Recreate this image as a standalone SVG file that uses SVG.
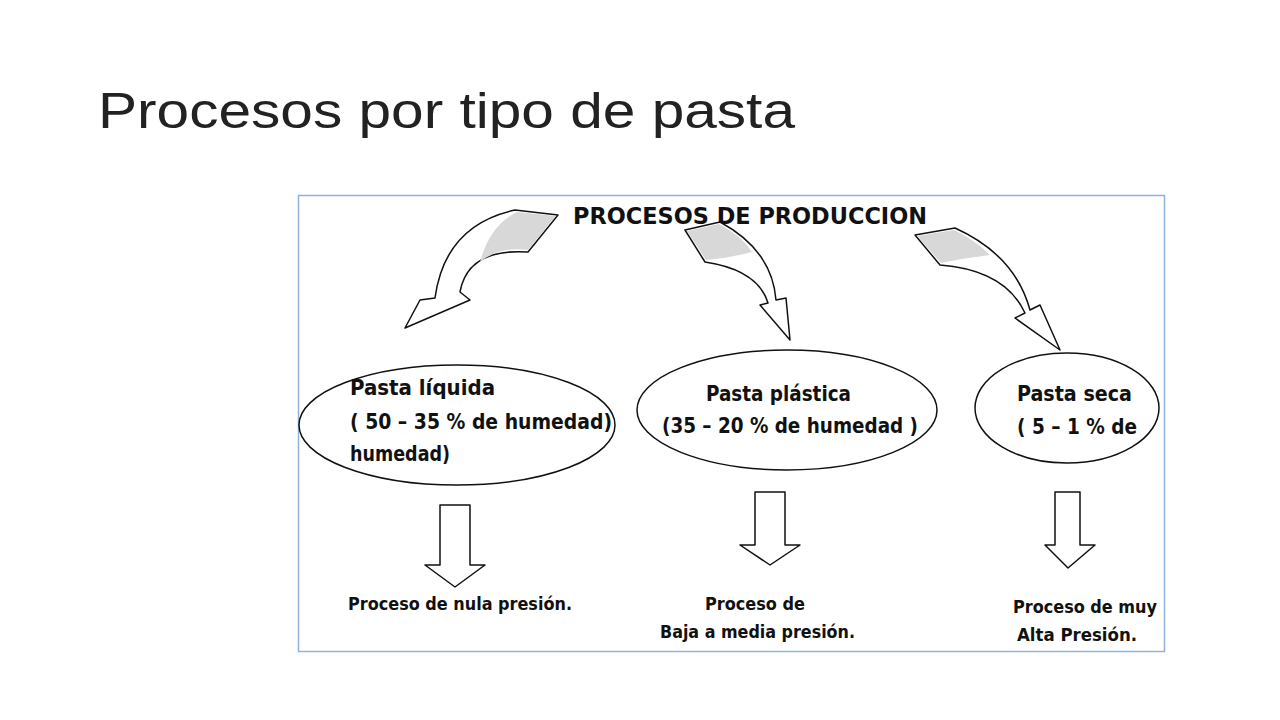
<svg xmlns="http://www.w3.org/2000/svg" width="1280" height="720" viewBox="0 0 1280 720">
<style>
.t{font-family:"DejaVu Sans Condensed","Liberation Sans",sans-serif;font-weight:bold;fill:#111}
.sh{fill:#fff;stroke:#111;stroke-width:1.5;stroke-linejoin:round}
.g{fill:#d8d8d8;stroke:none}
</style>
<rect width="1280" height="720" fill="#fff"/>
<text x="98" y="128" font-family="Liberation Sans,Arial,sans-serif" font-size="50" fill="#222" textLength="697" lengthAdjust="spacingAndGlyphs">Procesos por tipo de pasta</text>
<rect x="298.5" y="195.5" width="866" height="456" fill="#fff" stroke="#8fb4d9" stroke-width="1.5"/>
<g id="heading"><text class="t" x="573" y="224" font-size="23" textLength="354" lengthAdjust="spacingAndGlyphs">PROCESOS DE PRODUCCION</text></g>
<g id="connectors">
<path class="sh" d="M515 210 Q445 225 435 298 L420 300 L405 328 L470 300 L460 292 Q468 248 528 252 L558 215 Z"/>
<path class="g" d="M517 212 L556 216 L528 250 Q500 246 480 262 Q490 225 517 212 Z"/>
<path class="sh" d="M685 230 L720 222 Q772 250 776 300 L786 298 L790 340 L760 305 L768 303 Q758 270 705 262 Z"/>
<path class="g" d="M687 231 L719 224 Q742 236 752 252 Q730 258 706 260 Z"/>
<path class="sh" d="M915 235 L955 228 Q1015 255 1030 310 L1040 305 L1060 350 L1015 318 L1025 313 Q1005 270 940 265 Z"/>
<path class="g" d="M917 236 L954 230 Q975 240 990 255 Q965 258 941 263 Z"/>
<path class="sh" d="M440 505 H470 V565 H485 L455 587 L425 565 H440 Z"/>
<path class="sh" d="M755 492 H785 V545 H800 L770 565 L740 545 H755 Z"/>
<path class="sh" d="M1055 492 H1080 V545 H1095 L1068 568 L1045 545 H1055 Z"/>
</g>
<g id="liquida">
<ellipse cx="457" cy="425" rx="158" ry="60" fill="none" stroke="#111" stroke-width="1.5"/>
<text class="t" x="350" y="395" font-size="22" textLength="145" lengthAdjust="spacingAndGlyphs">Pasta líquida</text>
<text class="t" x="350" y="429" font-size="22" textLength="262" lengthAdjust="spacingAndGlyphs">( 50 – 35 % de humedad)</text>
<text class="t" x="350" y="461" font-size="22" textLength="100" lengthAdjust="spacingAndGlyphs">humedad)</text>
</g>
<g id="plastica">
<ellipse cx="787" cy="410" rx="150" ry="60" fill="none" stroke="#111" stroke-width="1.5"/>
<text class="t" x="706" y="401" font-size="22" textLength="145" lengthAdjust="spacingAndGlyphs">Pasta plástica</text>
<text class="t" x="662" y="433" font-size="22" textLength="256" lengthAdjust="spacingAndGlyphs">(35 – 20 % de humedad )</text>
</g>
<g id="seca">
<ellipse cx="1067" cy="408" rx="92" ry="55" fill="none" stroke="#111" stroke-width="1.5"/>
<text class="t" x="1017" y="401" font-size="22" textLength="115" lengthAdjust="spacingAndGlyphs">Pasta seca</text>
<text class="t" x="1017" y="434" font-size="22" textLength="120" lengthAdjust="spacingAndGlyphs">( 5 – 1 % de</text>
</g>
<g id="procesos">
<text class="t" x="348" y="610" font-size="17" textLength="224" lengthAdjust="spacingAndGlyphs">Proceso de nula presión.</text>
<text class="t" x="705" y="610" font-size="17" textLength="100" lengthAdjust="spacingAndGlyphs">Proceso de</text>
<text class="t" x="660" y="638" font-size="17" textLength="195" lengthAdjust="spacingAndGlyphs">Baja a media presión.</text>
<text class="t" x="1013" y="613" font-size="17" textLength="144" lengthAdjust="spacingAndGlyphs">Proceso de muy</text>
<text class="t" x="1017" y="641" font-size="17" textLength="120" lengthAdjust="spacingAndGlyphs">Alta  Presión.</text>
</g>
</svg>
